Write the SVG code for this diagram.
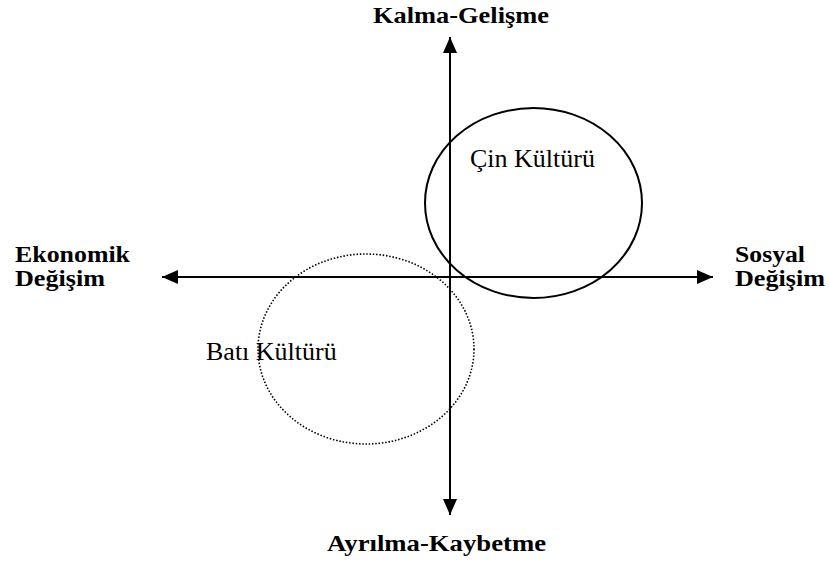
<svg xmlns="http://www.w3.org/2000/svg" width="829" height="566" viewBox="0 0 829 566">
<style>
.b{font-family:"Liberation Serif","Times New Roman",serif;font-weight:bold;font-size:22.5px;fill:#000}
.r{font-family:"Liberation Serif","Times New Roman",serif;font-size:26px;fill:#000}
.ax{stroke:#000;stroke-width:2;fill:none}
</style>
<defs>
<marker id="ah" viewBox="0 0 16 14" refX="16" refY="7" markerWidth="16" markerHeight="14" markerUnits="userSpaceOnUse" orient="auto">
<path d="M0,0 L16,7 L0,14 Z" fill="#000"/>
</marker>
</defs>
<rect width="829" height="566" fill="#fff"/>
<g id="cin">
<ellipse cx="533.5" cy="203" rx="108.5" ry="95" fill="none" stroke="#000" stroke-width="2"/>
<text class="r" x="470" y="167">Çin Kültürü</text>
</g>
<g id="bati">
<ellipse cx="366" cy="349" rx="108" ry="95" fill="none" stroke="#000" stroke-width="1.6" stroke-dasharray="1.5 1.8"/>
<text class="r" x="206" y="360">Batı Kültürü</text>
</g>
<g id="connectors">
<line class="ax" x1="450" y1="277" x2="450" y2="37" marker-end="url(#ah)"/>
<line class="ax" x1="450" y1="277" x2="450" y2="515" marker-end="url(#ah)"/>
<line class="ax" x1="450" y1="277" x2="162" y2="277" marker-end="url(#ah)"/>
<line class="ax" x1="450" y1="277" x2="713" y2="277" marker-end="url(#ah)"/>
</g>
<g id="top"><text class="b" x="373" y="23" textLength="176" lengthAdjust="spacingAndGlyphs">Kalma-Gelişme</text></g>
<g id="bottom"><text class="b" x="327" y="551" textLength="219" lengthAdjust="spacingAndGlyphs">Ayrılma-Kaybetme</text></g>
<g id="left"><text class="b" x="15" y="262" textLength="115" lengthAdjust="spacingAndGlyphs">Ekonomik</text><text class="b" x="15" y="286" textLength="90" lengthAdjust="spacingAndGlyphs">Değişim</text></g>
<g id="right"><text class="b" x="735" y="262" textLength="70" lengthAdjust="spacingAndGlyphs">Sosyal</text><text class="b" x="735" y="286" textLength="90" lengthAdjust="spacingAndGlyphs">Değişim</text></g>
</svg>
